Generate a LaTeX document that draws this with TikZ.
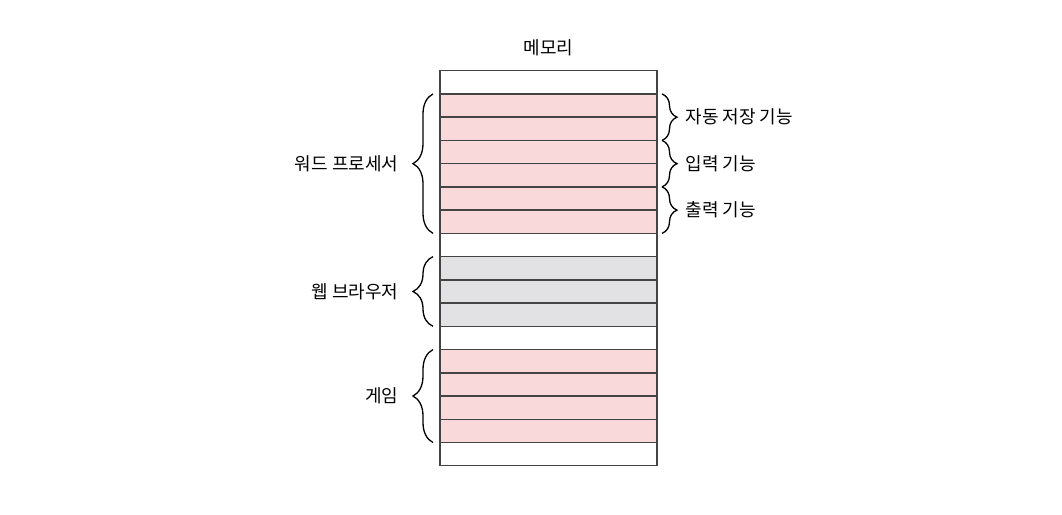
\documentclass[tikz,border=0pt]{standalone}
\usepackage{fontspec}
\setmainfont{Noto Sans CJK KR}
\usetikzlibrary{positioning,decorations.pathreplacing}
\usepackage{xcolor}
\definecolor{cellPink}{HTML}{F9D9D9}
\definecolor{cellGray}{HTML}{E2E2E4}
\definecolor{lineDark}{HTML}{444444}

\begin{document}
\begin{tikzpicture}[
  x=1pt, y=1pt,
  font=\fontsize{18}{21}\selectfont,
  cell/.style={draw=lineDark, line width=1.4pt, fill=white, minimum width=217pt, minimum height=23.24pt, inner sep=0pt, outer sep=0pt},
  cellPk/.style={cell, fill=cellPink},
  cellGy/.style={cell, fill=cellGray},
  braceL/.style={decorate, decoration={brace, amplitude=20pt, raise=7pt}, line width=1.3pt, draw=black},
  braceR/.style={decorate, decoration={brace, amplitude=15pt, raise=5pt}, line width=1.3pt, draw=black},
  lbl/.style={inner sep=0pt, text=black},
]
\useasboundingbox (0,0) rectangle (1062,-514);

% --- memory column ---
\node[cell] (r0) at (548.5,-82.3) {};
\node[cellPk, below=0pt of r0] (r1) {};
\node[cellPk, below=0pt of r1] (r2) {};
\node[cellPk, below=0pt of r2] (r3) {};
\node[cellPk, below=0pt of r3] (r4) {};
\node[cellPk, below=0pt of r4] (r5) {};
\node[cellPk, below=0pt of r5] (r6) {};
\node[cell, below=0pt of r6] (r7) {};
\node[cellGy, below=0pt of r7] (r8) {};
\node[cellGy, below=0pt of r8] (r9) {};
\node[cellGy, below=0pt of r9] (r10) {};
\node[cell, below=0pt of r10] (r11) {};
\node[cellPk, below=0pt of r11] (r12) {};
\node[cellPk, below=0pt of r12] (r13) {};
\node[cellPk, below=0pt of r13] (r14) {};
\node[cellPk, below=0pt of r14] (r15) {};
\node[cell, below=0pt of r15] (r16) {};

\node[lbl, above=15pt of r0] (memTitle) {메모리};

% --- programs (left) ---
\draw[braceL] (r6.south west) -- (r1.north west)
  node[lbl, midway, left=41pt] (wordProc) {워드 프로세서};
\draw[braceL] (r10.south west) -- (r8.north west)
  node[lbl, midway, left=41pt] (webBrowser) {웹 브라우저};
\draw[braceL] (r15.south west) -- (r12.north west)
  node[lbl, midway, left=41pt] (game) {게임};

% --- word processor functions (right) ---
\draw[braceR] (r1.north east) -- (r2.south east)
  node[lbl, midway, right=28pt] (autoSave) {자동 저장 기능};
\draw[braceR] (r3.north east) -- (r4.south east)
  node[lbl, midway, right=28pt] (inputFn) {입력 기능};
\draw[braceR] (r5.north east) -- (r6.south east)
  node[lbl, midway, right=28pt] (outputFn) {출력 기능};

\end{tikzpicture}
\end{document}
